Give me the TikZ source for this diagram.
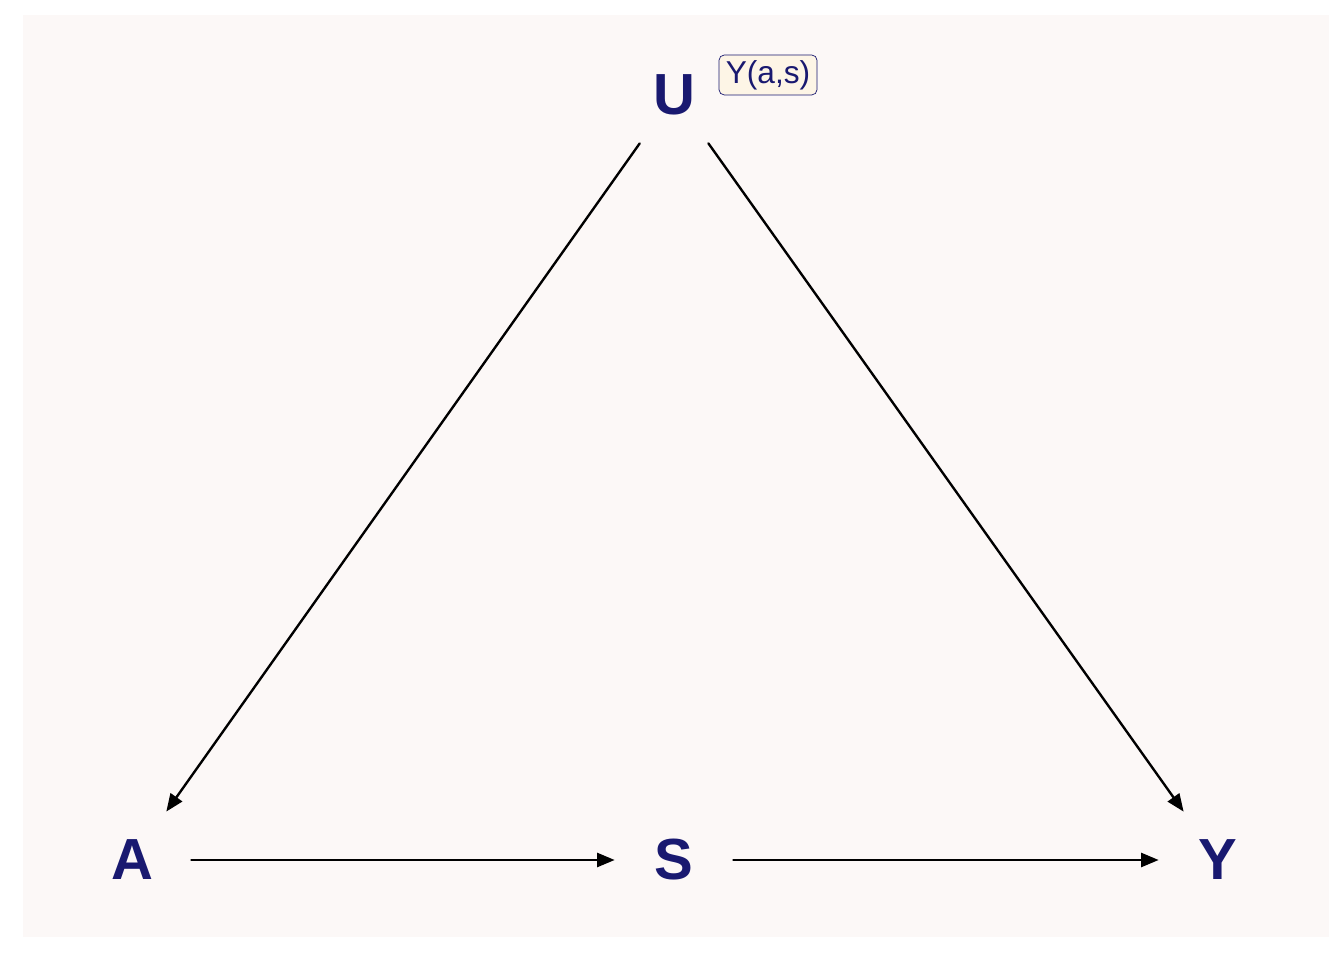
\documentclass[tikz,border=0pt]{standalone}
\usepackage{fontspec}
\setmainfont{Liberation Sans}
\usetikzlibrary{arrows.meta, positioning}
\definecolor{panel}{HTML}{FCF8F7}
\definecolor{navy}{HTML}{191970}
\definecolor{tagfill}{HTML}{FDF5E6}
\tikzset{var/.style={circle, minimum size=2.36cm, inner sep=0pt, text=navy, font=\fontsize{33}{33}\selectfont\bfseries},
  causal/.style={-{Triangle[length=10pt,width=8pt]}, line width=1.35pt, line cap=round}}

\begin{document}
\begin{tikzpicture}
  \useasboundingbox (0,0) rectangle (26.88,19.2);
  \fill[panel] (0.46,0.46) rectangle (26.58,18.9);
  % variables
  \node[var] (U) at (13.48,17.3) {U};
  \node[var] (A) at (2.64,2.0) {A};
  \node[var] (S) at (13.48,2.0) {S};
  \node[var] (Y) at (24.36,2.0) {Y};
  \node[draw=navy, line width=0.4pt, fill=tagfill, rounded corners=3pt, text=navy, font=\fontsize{18}{18}\selectfont,
        minimum width=1.96cm, minimum height=0.8cm, inner sep=1pt] (tag) at (15.36,17.7) {Y(a,s)};
  % edges
  \draw[causal] (U) -- (A);
  \draw[causal] (U) -- (Y);
  \draw[causal] (A) -- (S);
  \draw[causal] (S) -- (Y);
\end{tikzpicture}
\end{document}
